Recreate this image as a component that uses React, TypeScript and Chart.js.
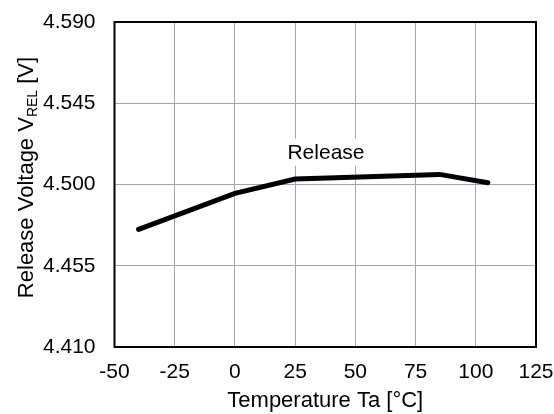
import React, { useEffect, useRef } from "react";
import { Chart, registerables } from "chart.js";

Chart.register(...registerables);

const temperatures = [-40, 0, 25, 85, 105];
const releaseVoltage = [4.4751, 4.4951, 4.503, 4.5056, 4.501];
const yTickValues = [4.41, 4.455, 4.5, 4.545, 4.59];
const xTickValues = [-50, -25, 0, 25, 50, 75, 100, 125];
const seriesLabel = "Release";
const labelPos = { x: 37.8, y: 4.5176 };

const FONT = "Arial, 'Liberation Sans', sans-serif";

const framePlugin = {
  id: "framePlugin",
  afterDraw(chart: any) {
    const { ctx, chartArea: a, scales } = chart;
    ctx.save();
    // series label with white background
    const px = scales.x.getPixelForValue(labelPos.x);
    const py = scales.y.getPixelForValue(labelPos.y);
    ctx.font = `21px ${FONT}`;
    const w = ctx.measureText(seriesLabel).width;
    ctx.fillStyle = "#fff";
    ctx.fillRect(px - w / 2 - 2, py - 14, w + 4, 27);
    ctx.fillStyle = "#000";
    ctx.textAlign = "center";
    ctx.textBaseline = "middle";
    ctx.fillText(seriesLabel, px, py);
    // frame
    ctx.strokeStyle = "#000";
    ctx.lineWidth = 2;
    ctx.strokeRect(a.left, a.top, a.right - a.left, a.bottom - a.top);
    // y title with subscript
    const cy = (a.top + a.bottom) / 2 - 7;
    ctx.translate(25, cy);
    ctx.rotate(-Math.PI / 2);
    const big = `22px ${FONT}`;
    const small = `14px ${FONT}`;
    const p1 = "Release Voltage V";
    const p2 = "REL";
    const p3 = " [V]";
    ctx.font = big;
    const w1 = ctx.measureText(p1).width;
    const w3 = ctx.measureText(p3).width;
    ctx.font = small;
    const w2 = ctx.measureText(p2).width;
    const total = w1 + w2 + w3;
    let x0 = -total / 2;
    ctx.textAlign = "left";
    ctx.textBaseline = "alphabetic";
    ctx.font = big;
    ctx.fillText(p1, x0, 8);
    x0 += w1;
    ctx.font = small;
    ctx.fillText(p2, x0, 12);
    x0 += w2;
    ctx.font = big;
    ctx.fillText(p3, x0, 8);
    ctx.restore();
  },
};

export default function App() {
  const ref = useRef<HTMLCanvasElement>(null);
  useEffect(() => {
    if (!ref.current) return;
    const chart = new Chart(ref.current, {
      type: "line",
      data: {
        datasets: [
          {
            label: seriesLabel,
            data: temperatures.map((t, i) => ({ x: t, y: releaseVoltage[i] })),
            borderColor: "#000",
            borderWidth: 5,
            pointRadius: 0,
            borderCapStyle: "round",
            borderJoinStyle: "miter",
            tension: 0,
          },
        ],
      },
      options: {
        animation: false,
        responsive: false,
        layout: { padding: { top: 22, right: 18, left: 0, bottom: 0 } },
        plugins: { legend: { display: false }, tooltip: { enabled: false } },
        scales: {
          x: {
            type: "linear",
            min: -50,
            max: 125,
            afterBuildTicks: (s: any) => {
              s.ticks = xTickValues.map((v) => ({ value: v }));
            },
            afterFit: (s: any) => {
              s.height = 67;
              s.paddingLeft = 0;
              s.paddingRight = 0;
            },
            grid: { color: "rgb(162,166,172)", lineWidth: 1, drawTicks: false },
            border: { display: false },
            ticks: { color: "#000", font: { size: 21, family: FONT }, padding: 13, maxRotation: 0 },
            title: {
              display: true,
              text: "Temperature Ta [°C]",
              color: "#000",
              font: { size: 22, family: FONT },
              padding: { top: 0, bottom: 0 },
            },
          },
          y: {
            type: "linear",
            min: 4.41,
            max: 4.59,
            afterBuildTicks: (s: any) => {
              s.ticks = yTickValues.map((v) => ({ value: v }));
            },
            afterFit: (s: any) => {
              s.width = 114.5;
              s.paddingTop = 0;
              s.paddingBottom = 0;
            },
            grid: { color: "rgb(162,166,172)", lineWidth: 1, drawTicks: false },
            border: { display: false },
            ticks: {
              color: "#000",
              font: { size: 21, family: FONT },
              padding: 19,
              callback: (v: any) => Number(v).toFixed(3),
            },
          },
        },
      },
      plugins: [framePlugin],
    });
    return () => chart.destroy();
  }, []);
  return (
    <div style={{ position: "fixed", left: 0, top: 0, width: 554, height: 414, background: "#fff" }}>
      <canvas ref={ref} width={554} height={414} style={{ width: 554, height: 414 }} />
    </div>
  );
}
